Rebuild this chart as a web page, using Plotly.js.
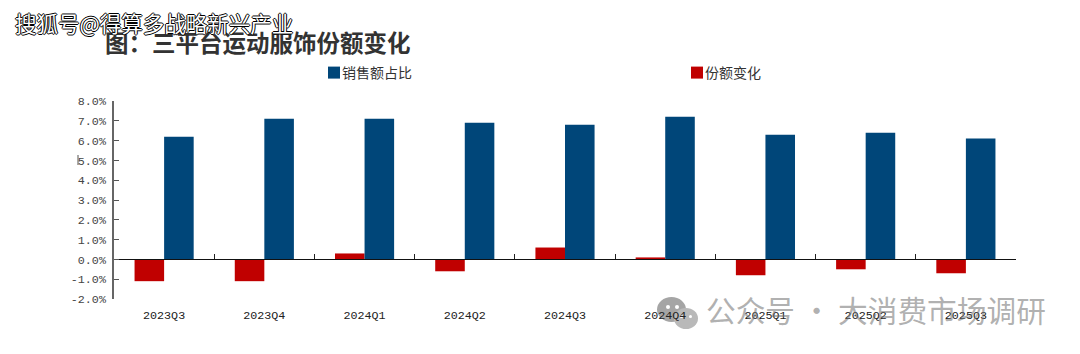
<!DOCTYPE html>
<html>
<head>
<meta charset="utf-8">
<script src="https://cdn.plot.ly/plotly-3.0.1.min.js"></script>
<style>html,body{margin:0;padding:0;background:#fff}#c{width:1080px;height:354px}</style>
</head>
<body>
<div id="c"></div>
<script>
const categories = ['2023Q3','2023Q4','2024Q1','2024Q2','2024Q3','2024Q4','2025Q1','2025Q2','2025Q3'];
const salesShare = [6.2,7.1,7.1,6.9,6.8,7.2,6.3,6.4,6.1];
const shareChange = [-1.1,-1.1,0.3,-0.6,0.6,0.1,-0.8,-0.5,-0.7];
const yTicks = [-2,-1,0,1,2,3,4,5,6,7,8];

const W = 1080, H = 354;
const L = 114, R = 1016, T = 101, B = 299;
const cx = x => x / W;
const cy = y => 1 - y / H;
const px = x => (x - L) / (R - L);
const py = y => (B - y) / (B - T);
const cjk = '"Noto Sans CJK SC"';
const mono = '"Liberation Mono", monospace';

const dot = (x0, x1, y0, y1, fill) => ({type:'circle', layer:'below', xref:'paper', yref:'paper',
  x0:px(x0), x1:px(x1), y0:py(y0), y1:py(y1), fillcolor:fill, line:{width:0}});

const traces = [
  {type:'bar', name:'份额变化', x:categories, y:shareChange, marker:{color:'#C00000'}},
  {type:'bar', name:'销售额占比', x:categories, y:salesShare, marker:{color:'#004679'}}
];

const layout = {
  width:W, height:H,
  paper_bgcolor:'#fff', plot_bgcolor:'rgba(0,0,0,0)',
  margin:{l:L, r:W-R, t:T, b:H-B, pad:0},
  barmode:'group', bargap:0.41, bargroupgap:0,
  title:{text:'图：三平台运动服饰份额变化', x:cx(105), xref:'container', xanchor:'left',
         y:cy(44), yref:'container', yanchor:'middle',
         font:{family:cjk, size:23.5, color:'#333', weight:700}},
  xaxis:{type:'category', anchor:'free', position:2/10, tickson:'boundaries',
         ticks:'inside', ticklen:5, tickwidth:1, tickcolor:'#222',
         showline:true, linecolor:'#111', linewidth:1, showgrid:false, zeroline:false,
         ticklabelstandoff:45, tickfont:{family:mono, size:11.7, color:'#222'}},
  yaxis:{range:[-2,8], tickmode:'array', tickvals:yTicks,
         ticktext:yTicks.map(v => v.toFixed(1) + '%'),
         ticks:'inside', ticklen:5, tickwidth:1, tickcolor:'#555',
         showline:true, linecolor:'#666', linewidth:1.5, showgrid:false, zeroline:false,
         ticklabelstandoff:4, tickfont:{family:mono, size:11.7, color:'#444'}},
  showlegend:true,
  legend:{orientation:'h', traceorder:'reversed', x:cx(302), xanchor:'left', xref:'container',
          y:cy(73), yref:'container', yanchor:'middle', entrywidth:318, entrywidthmode:'pixels',
          bgcolor:'rgba(0,0,0,0)', font:{family:cjk, size:14, color:'#333'}},
  annotations:[
    {xref:'paper', yref:'paper', x:px(13), y:py(22), xanchor:'left', yanchor:'middle', showarrow:false,
     text:'搜狐号@得算多战略新兴产业',
     font:{family:cjk, size:21.5, color:'#fff',
           shadow:'1px 0 0 #000,-1px 0 0 #000,0 1px 0 #000,0 -1px 0 #000'}},
    {xref:'paper', yref:'paper', x:px(704), y:py(309), xanchor:'left', yanchor:'middle', showarrow:false,
     text:'公众号 · 大消费市场调研',
     font:{family:cjk, size:29.7, color:'rgba(110,110,110,0.55)'}}
  ],
  shapes:[
    {type:'line', xref:'paper', yref:'paper', x0:px(78), x1:px(78), y0:py(155), y1:py(165),
     line:{color:'#555', width:1}},
    dot(657, 686, 297, 322, 'rgb(165,165,165)'),
    dot(666, 670, 305, 309, '#fff'),
    dot(675, 679, 305, 309, '#fff'),
    dot(674, 698, 308, 329, 'rgb(185,185,185)'),
    dot(680, 683, 315, 318, '#fff'),
    dot(689, 692, 315, 318, '#fff')
  ]
};

Plotly.newPlot('c', traces, layout, {displayModeBar:false, responsive:false}).then(() => {
  document.querySelectorAll('.legend .legendsymbols').forEach(g => g.setAttribute('transform', 'translate(12,0)'));
});
</script>
</body>
</html>
